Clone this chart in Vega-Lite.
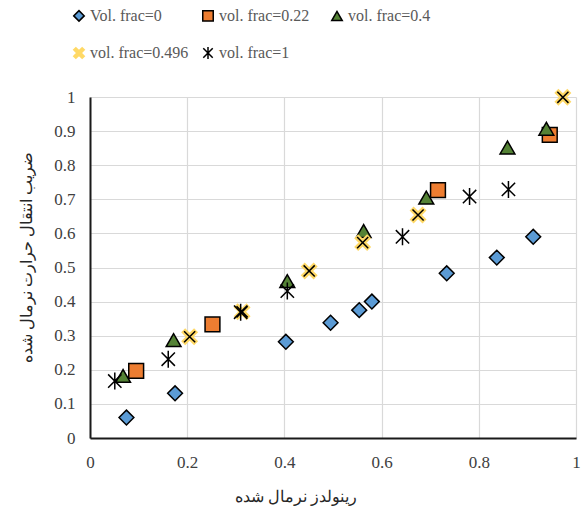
{
  "$schema": "https://vega.github.io/schema/vega-lite/v6.json",
  "width": 486,
  "height": 341,
  "autosize": {"type": "none"},
  "padding": {"left": 90, "top": 97, "right": 5, "bottom": 75},
  "background": "white",
  "config": {
    "view": {"stroke": null},
    "font": "'Liberation Serif', 'Times New Roman', serif"
  },
  "data": {
    "values": [
      {"s": "Vol. frac=0", "x": 0.075, "y": 0.06},
      {"s": "Vol. frac=0", "x": 0.175, "y": 0.131},
      {"s": "Vol. frac=0", "x": 0.403, "y": 0.282},
      {"s": "Vol. frac=0", "x": 0.495, "y": 0.338},
      {"s": "Vol. frac=0", "x": 0.554, "y": 0.375},
      {"s": "Vol. frac=0", "x": 0.58, "y": 0.4},
      {"s": "Vol. frac=0", "x": 0.734, "y": 0.483},
      {"s": "Vol. frac=0", "x": 0.837, "y": 0.529},
      {"s": "Vol. frac=0", "x": 0.912, "y": 0.59},
      {"s": "vol. frac=0.22", "x": 0.095, "y": 0.197},
      {"s": "vol. frac=0.22", "x": 0.252, "y": 0.333},
      {"s": "vol. frac=0.22", "x": 0.716, "y": 0.727},
      {"s": "vol. frac=0.22", "x": 0.946, "y": 0.889},
      {"s": "vol. frac=0.4", "x": 0.068, "y": 0.182},
      {"s": "vol. frac=0.4", "x": 0.172, "y": 0.287},
      {"s": "vol. frac=0.4", "x": 0.406, "y": 0.46},
      {"s": "vol. frac=0.4", "x": 0.563, "y": 0.607},
      {"s": "vol. frac=0.4", "x": 0.692, "y": 0.705},
      {"s": "vol. frac=0.4", "x": 0.859, "y": 0.852},
      {"s": "vol. frac=0.4", "x": 0.939, "y": 0.907},
      {"s": "vol. frac=0.496", "x": 0.205, "y": 0.297},
      {"s": "vol. frac=0.496", "x": 0.313, "y": 0.37},
      {"s": "vol. frac=0.496", "x": 0.451, "y": 0.49},
      {"s": "vol. frac=0.496", "x": 0.561, "y": 0.573},
      {"s": "vol. frac=0.496", "x": 0.675, "y": 0.654},
      {"s": "vol. frac=0.496", "x": 0.973, "y": 0.999},
      {"s": "vol. frac=1", "x": 0.051, "y": 0.167},
      {"s": "vol. frac=1", "x": 0.161, "y": 0.231},
      {"s": "vol. frac=1", "x": 0.31, "y": 0.369},
      {"s": "vol. frac=1", "x": 0.406, "y": 0.431},
      {"s": "vol. frac=1", "x": 0.643, "y": 0.59},
      {"s": "vol. frac=1", "x": 0.781, "y": 0.708},
      {"s": "vol. frac=1", "x": 0.861, "y": 0.729}
    ]
  },
  "encoding": {
    "x": {
      "field": "x", "type": "quantitative",
      "scale": {"domain": [0, 1], "nice": false},
      "axis": {
        "values": [0, 0.2, 0.4, 0.6, 0.8, 1],
        "format": "~g",
        "title": "رینولدز نرمال شده",
        "titleFont": "'Liberation Serif', 'Times New Roman', serif",
        "titleFontSize": 16,
        "titleFontWeight": "normal",
        "titleColor": "#262626",
        "titleX": 205,
        "titleY": 50,
        "labelFont": "'Liberation Serif', 'Times New Roman', serif",
        "labelFontSize": 17,
        "labelColor": "#404040",
        "labelPadding": 16,
        "labelFlush": false,
        "ticks": false,
        "domainColor": "#1a1a1a",
        "domainWidth": 2,
        "gridColor": "#d9d9d9",
        "gridWidth": 1.2
      }
    },
    "y": {
      "field": "y", "type": "quantitative",
      "scale": {"domain": [0, 1], "nice": false},
      "axis": {
        "values": [0, 0.1, 0.2, 0.3, 0.4, 0.5, 0.6, 0.7, 0.8, 0.9, 1],
        "format": "~g",
        "title": "ضریب انتقال حرارت نرمال شده",
        "titleFont": "'Liberation Serif', 'Times New Roman', serif",
        "titleFontSize": 16,
        "titleFontWeight": "normal",
        "titleColor": "#262626",
        "titleX": -56,
        "titleY": 160,
        "labelFont": "'Liberation Serif', 'Times New Roman', serif",
        "labelFontSize": 17,
        "labelColor": "#404040",
        "labelPadding": 15,
        "labelFlush": false,
        "ticks": false,
        "domainColor": "#1a1a1a",
        "domainWidth": 2,
        "gridColor": "#d9d9d9",
        "gridWidth": 1.2
      }
    }
  },
  "layer": [
    {
      "mark": {"type": "point", "filled": true, "strokeWidth": 1.5, "opacity": 1, "size": 220},
      "encoding": {
        "shape": {
          "field": "s", "type": "nominal",
          "scale": {
            "domain": ["Vol. frac=0", "vol. frac=0.22", "vol. frac=0.4", "vol. frac=0.496", "vol. frac=1"],
            "range": [
              "diamond",
              "square",
              "triangle-up",
              "M-1,-0.6L-0.6,-1L0,-0.4L0.6,-1L1,-0.6L0.4,0L1,0.6L0.6,1L0,0.4L-0.6,1L-1,0.6L-0.4,0Z",
              "M-0.9,-0.9L0.9,0.9M-0.9,0.9L0.9,-0.9M0,-1.15L0,1.15"
            ]
          },
          "legend": {
            "title": null,
            "orient": "none",
            "direction": "horizontal",
            "legendX": -19,
            "legendY": -90,
            "columns": 3,
            "gridAlign": "all",
            "columnPadding": 10,
            "rowPadding": 18,
            "symbolSize": 110,
            "symbolStrokeWidth": 1.5,
            "labelFont": "'Liberation Serif', 'Times New Roman', serif",
            "labelFontSize": 16,
            "labelColor": "#595959",
            "labelOffset": 3,
            "labelLimit": 300
          }
        },
        "fill": {
          "field": "s", "type": "nominal",
          "scale": {
            "domain": ["Vol. frac=0", "vol. frac=0.22", "vol. frac=0.4", "vol. frac=0.496", "vol. frac=1"],
            "range": ["#5B9BD5", "#ED7D31", "#548235", "#FFD966", "#000000"]
          },
          "legend": null
        },
        "stroke": {
          "field": "s", "type": "nominal",
          "scale": {
            "domain": ["Vol. frac=0", "vol. frac=0.22", "vol. frac=0.4", "vol. frac=0.496", "vol. frac=1"],
            "range": ["#000000", "#000000", "#000000", "#FFD966", "#000000"]
          },
          "legend": null
        }
      }
    },
    {
      "transform": [{"filter": "datum.s === 'vol. frac=0.496'"}],
      "mark": {
        "type": "point",
        "shape": "M-0.75,-0.75L0.75,0.75M-0.75,0.75L0.75,-0.75",
        "filled": false,
        "stroke": "#000000",
        "strokeWidth": 1.5,
        "size": 220,
        "opacity": 1
      },
      "encoding": {}
    }
  ]
}
